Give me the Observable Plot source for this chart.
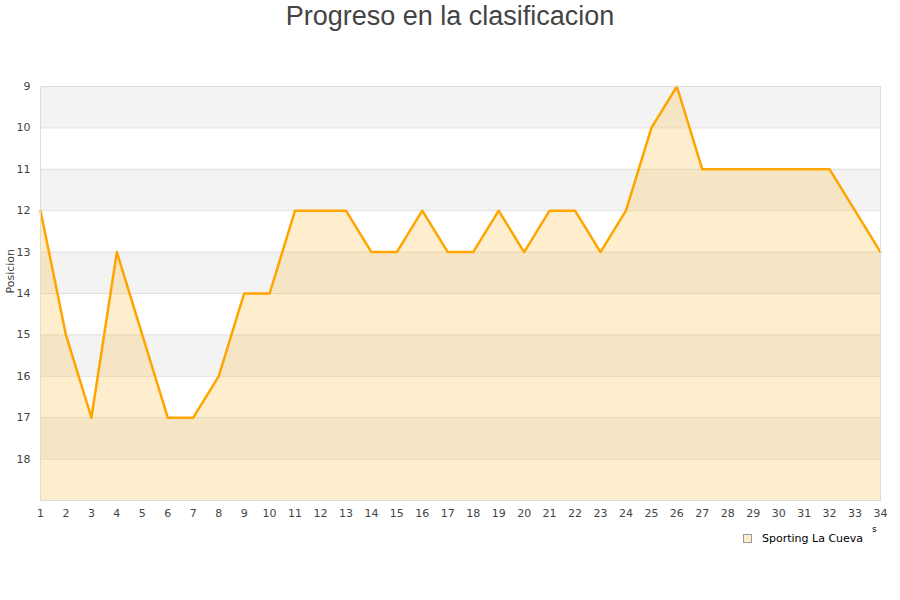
<!DOCTYPE html>
<html>
<head>
<meta charset="utf-8">
<script src="https://cdn.jsdelivr.net/npm/d3@7"></script>
<script src="https://cdn.jsdelivr.net/npm/@observablehq/plot@0.6"></script>
<style>
  body { margin: 0; background: #fff; }
  #wrap { position: relative; width: 900px; height: 600px; font-family: "DejaVu Sans", sans-serif; }
  #title { position: absolute; left: 0; width: 900px; top: 0; text-align: center; font-family: "Liberation Sans", Arial, sans-serif; font-size: 27px; color: #444; line-height: 32px; }
  #legend { position: absolute; left: 743px; top: 532px; font-size: 11px; color: #000; display: flex; align-items: center; }
  #legend .sw { width: 7px; height: 7px; background: #ffeecd; border: 1px solid #999; margin-right: 10px; }
  #stray { position: absolute; left: 872px; top: 524px; font-size: 9px; color: #000; }
  #plot { position: absolute; left: 0; top: 0; }
</style>
</head>
<body>
<div id="wrap">
  <div id="plot"></div>
  <div id="title">Progreso en la clasificacion</div>
  <div id="legend"><div class="sw"></div><span>Sporting La Cueva</span></div>
  <div id="stray">s</div>
</div>
<script>
const seriesName = "Sporting La Cueva";
const jornadas = d3.range(1, 35);
const posiciones = [12, 15, 17, 13, 15, 17, 17, 16, 14, 14, 12, 12, 12, 13, 13, 12, 13, 13, 12, 13, 12, 12, 13, 12, 10, 9, 11, 11, 11, 11, 11, 11, 12, 13];
const yTicks = [9, 10, 11, 12, 13, 14, 15, 16, 17, 18];
const yDomain = [19, 9];
const bandStarts = [9, 11, 13, 15, 17];

const data = jornadas.map((j, i) => ({jornada: j, pos: posiciones[i]}));
const bands = bandStarts.map(b => ({y1: b, y2: b + 1}));

const chart = Plot.plot({
  width: 900,
  height: 600,
  marginLeft: 40,
  marginRight: 20,
  marginTop: 86,
  marginBottom: 100,
  style: {fontFamily: "DejaVu Sans, sans-serif", fontSize: "11px", color: "#444", background: "transparent"},
  x: {domain: [1, 34], ticks: jornadas, tickSize: 0, tickPadding: 9, tickFormat: d => d, label: null},
  y: {domain: yDomain, ticks: yTicks, tickSize: 0, tickPadding: 10, label: null},
  marks: [
    Plot.rect(bands, {x1: 1, x2: 34, y1: "y1", y2: "y2", fill: "#f3f3f3"}),
    Plot.ruleY(yTicks.slice(1), {stroke: "#e0e0e0", strokeWidth: 1}),
    Plot.areaY(data, {x: "jornada", y1: 19, y2: "pos", fill: "#ffc34d", fillOpacity: 0.28}),
    Plot.line(data, {x: "jornada", y: "pos", stroke: "#ffa500", strokeWidth: 2.5}),
    Plot.frame({stroke: "#dcdcdc"}),
    Plot.text(["Posicion"], {frameAnchor: "left", dx: -30, rotate: -90, fill: "#444", fontSize: 11})
  ]
});
document.getElementById("plot").appendChild(chart);
</script>
</body>
</html>
